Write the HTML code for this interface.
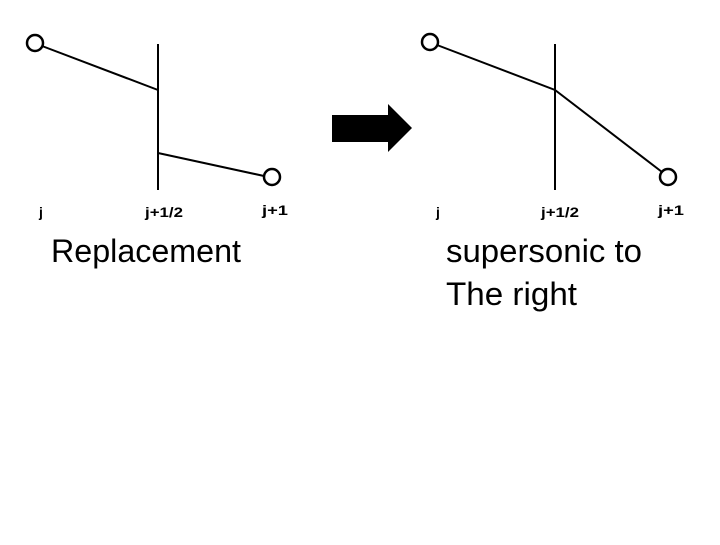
<!DOCTYPE html>
<html><head><meta charset="utf-8"><style>html,body{margin:0;padding:0;background:#fff}</style></head>
<body>
<svg width="720" height="540" viewBox="0 0 720 540" xmlns="http://www.w3.org/2000/svg" font-family="Liberation Sans, sans-serif">
<rect width="720" height="540" fill="#fff"/>
<g stroke="#000" stroke-width="2" fill="none">
<line x1="158" y1="44" x2="158" y2="190"/>
<line x1="42" y1="46" x2="158" y2="90"/>
<line x1="158" y1="153" x2="264" y2="176"/>
<circle cx="35" cy="43" r="8" fill="#fff" stroke-width="2.5"/>
<circle cx="272" cy="177" r="8" fill="#fff" stroke-width="2.5"/>
<line x1="555" y1="44" x2="555" y2="190"/>
<polyline points="437,45 555,90 662,172"/>
<circle cx="430" cy="42" r="8" fill="#fff" stroke-width="2.5"/>
<circle cx="668" cy="177" r="8" fill="#fff" stroke-width="2.5"/>
</g>
<polygon points="332,115 388,115 388,104 412,128 388,152 388,142 332,142" fill="#000"/>
<g font-size="14" font-weight="bold" fill="#000">
<text x="39" y="217">j</text>
<text x="145" y="217" textLength="38" lengthAdjust="spacingAndGlyphs">j+1/2</text>
<text x="262" y="215" textLength="26" lengthAdjust="spacingAndGlyphs">j+1</text>
<text x="436" y="217">j</text>
<text x="541" y="217" textLength="38" lengthAdjust="spacingAndGlyphs">j+1/2</text>
<text x="658" y="215" textLength="26" lengthAdjust="spacingAndGlyphs">j+1</text>
</g>
<g font-size="32" fill="#000">
<text x="51" y="262" textLength="190" lengthAdjust="spacingAndGlyphs">Replacement</text>
<text x="446" y="262" textLength="196" lengthAdjust="spacingAndGlyphs">supersonic to</text>
<text x="446" y="305" textLength="131" lengthAdjust="spacingAndGlyphs">The right</text>
</g>
</svg>
</body></html>
